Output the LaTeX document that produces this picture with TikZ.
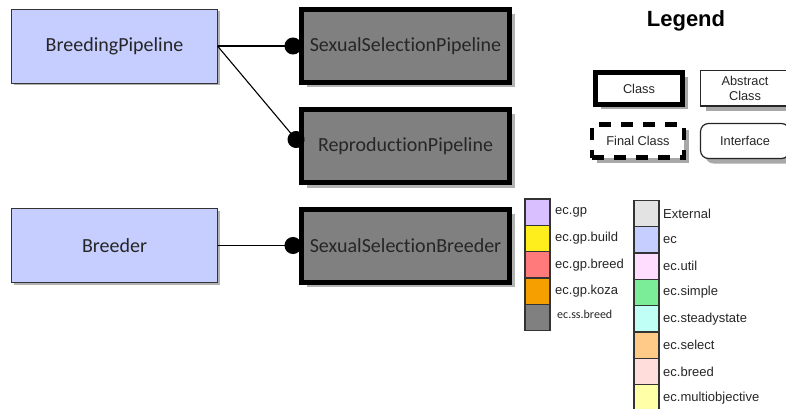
\documentclass[tikz,border=0pt]{standalone}
\usepackage{fontspec}
\setmainfont{Carlito}[Ligatures={NoCommon}]
\newfontfamily\arialfont{Liberation Sans}
\usetikzlibrary{arrows.meta,shadows}

% package colours
\definecolor{ecC}{HTML}{C6CDFF}
\definecolor{ssbreedC}{HTML}{808080}
\definecolor{gpC}{HTML}{D9BFFF}
\definecolor{gpbuildC}{HTML}{FFEE1E}
\definecolor{gpbreedC}{HTML}{FF7B7B}
\definecolor{gpkozaC}{HTML}{F5A000}
\definecolor{externalC}{HTML}{E3E3E3}
\definecolor{utilC}{HTML}{FFDDFF}
\definecolor{simpleC}{HTML}{7BED99}
\definecolor{steadyC}{HTML}{C0FFF5}
\definecolor{selectC}{HTML}{FFCA88}
\definecolor{breedC}{HTML}{FFDDDA}
\definecolor{moC}{HTML}{FFFFA8}
\definecolor{shadowC}{HTML}{A8A8A8}

\begin{document}
\begin{tikzpicture}[x=1pt,y=-1pt,
  basebox/.style={inner sep=0pt, outer sep=0pt, font=\fontsize{20}{24}\selectfont, text=black!85},
  ecbox/.style={basebox, draw=black!80, line width=0.9pt, fill=ecC,
    minimum width=206pt, minimum height=74pt,
    drop shadow={shadow xshift=2.5pt, shadow yshift=-2.5pt, fill=black, opacity=0.3}},
  ssbox/.style={basebox, draw=black, line width=5pt, fill=ssbreedC,
    minimum width=208pt, minimum height=73pt,
    drop shadow={shadow xshift=5pt, shadow yshift=-5pt, fill=black, opacity=0.3}},
  link/.style={line width=1.1pt, -{Circle[length=17pt,width=17pt]}},
  legtext/.style={font=\arialfont\fontsize{12.8}{15}\selectfont, text=black!85, align=center},
  legbox/.style={legtext, inner sep=0pt, outer sep=0pt, fill=white,
    drop shadow={shadow xshift=5pt, shadow yshift=-5pt, fill=shadowC, opacity=1}},
  swatch/.style={draw=black!80, line width=1.3pt, minimum width=25pt,
    minimum height=26.3pt, inner sep=0pt, outer sep=0pt},
  swlabel/.style={font=\arialfont\fontsize{13}{15}\selectfont, text=black!85,
    anchor=west, inner sep=0pt}
]
\useasboundingbox (0,0) rectangle (786,409);
\fill[white] (0,0) rectangle (786,409);
\begin{scope}
\clip (0,0) rectangle (786,409);

% classes
\node[ecbox] (bp) at (114.5,46) {BreedingPipeline};
\node[ssbox] (ssp) at (405.5,46) {SexualSelectionPipeline};
\node[ssbox] (rp) at (405.5,146) {ReproductionPipeline};
\node[ecbox] (br) at (114.5,245.5) {Breeder};
\node[ssbox] (ssb) at (405.5,245.5) {SexualSelectionBreeder};

% relations
\draw[link] (bp.east) -- (ssp.west);
\draw[link] (bp.east) -- (rp.west);
\draw[link] (br.east) -- (ssb.west);

% legend: class kinds
\node[font=\arialfont\bfseries\fontsize{22}{25}\selectfont, anchor=base, inner sep=0pt]
  (legend) at (686,27) {Legend};
\node[legbox, draw=black, line width=5pt, minimum width=87pt, minimum height=32pt]
  (kclass) at (639,88.5) {Class};
\node[legbox, draw=black!85, line width=1.2pt, minimum width=89pt, minimum height=35.5pt]
  (kabstract) at (745,88.3) {Abstract\\Class};
\node[legbox, draw=black, line width=4.5pt, dash pattern=on 12pt off 10pt,
  minimum width=92pt, minimum height=33pt] (kfinal) at (638,141) {Final Class};
\node[legbox, draw=black!85, line width=1.2pt, rounded corners=8pt,
  minimum width=89pt, minimum height=35pt] (kinterface) at (745,141) {Interface};

% legend: package colours, left column
\foreach \lab/\col [count=\i from 0] in
  {ec.gp/gpC, ec.gp.build/gpbuildC, ec.gp.breed/gpbreedC, ec.gp.koza/gpkozaC}{
  \node[swatch, fill=\col] (swl\i) at (537.5,212.15+\i*26.3) {};
  \node[swlabel] (lbl\i) at (555,212.15+\i*26.3) {\lab};
}
\node[swatch, fill=ssbreedC] (swl4) at (537.5,317.35) {};
\node[anchor=west, inner sep=0pt, font=\fontsize{12}{14}\selectfont, text=black!85]
  (lbl4) at (557,314.5) {ec.ss.breed};

% legend: package colours, right column
\foreach \lab/\col [count=\i from 0] in
  {External/externalC, ec/ecC, ec.util/utilC, ec.simple/simpleC,
   ec.steadystate/steadyC, ec.select/selectC, ec.breed/breedC,
   ec.multiobjective/moC}{
  \node[swatch, fill=\col] (swr\i) at (646.5,213.65+\i*26.3) {};
  \node[swlabel] (lbr\i) at (663,213.65+\i*26.3) {\lab};
}
\end{scope}
\end{tikzpicture}
\end{document}
